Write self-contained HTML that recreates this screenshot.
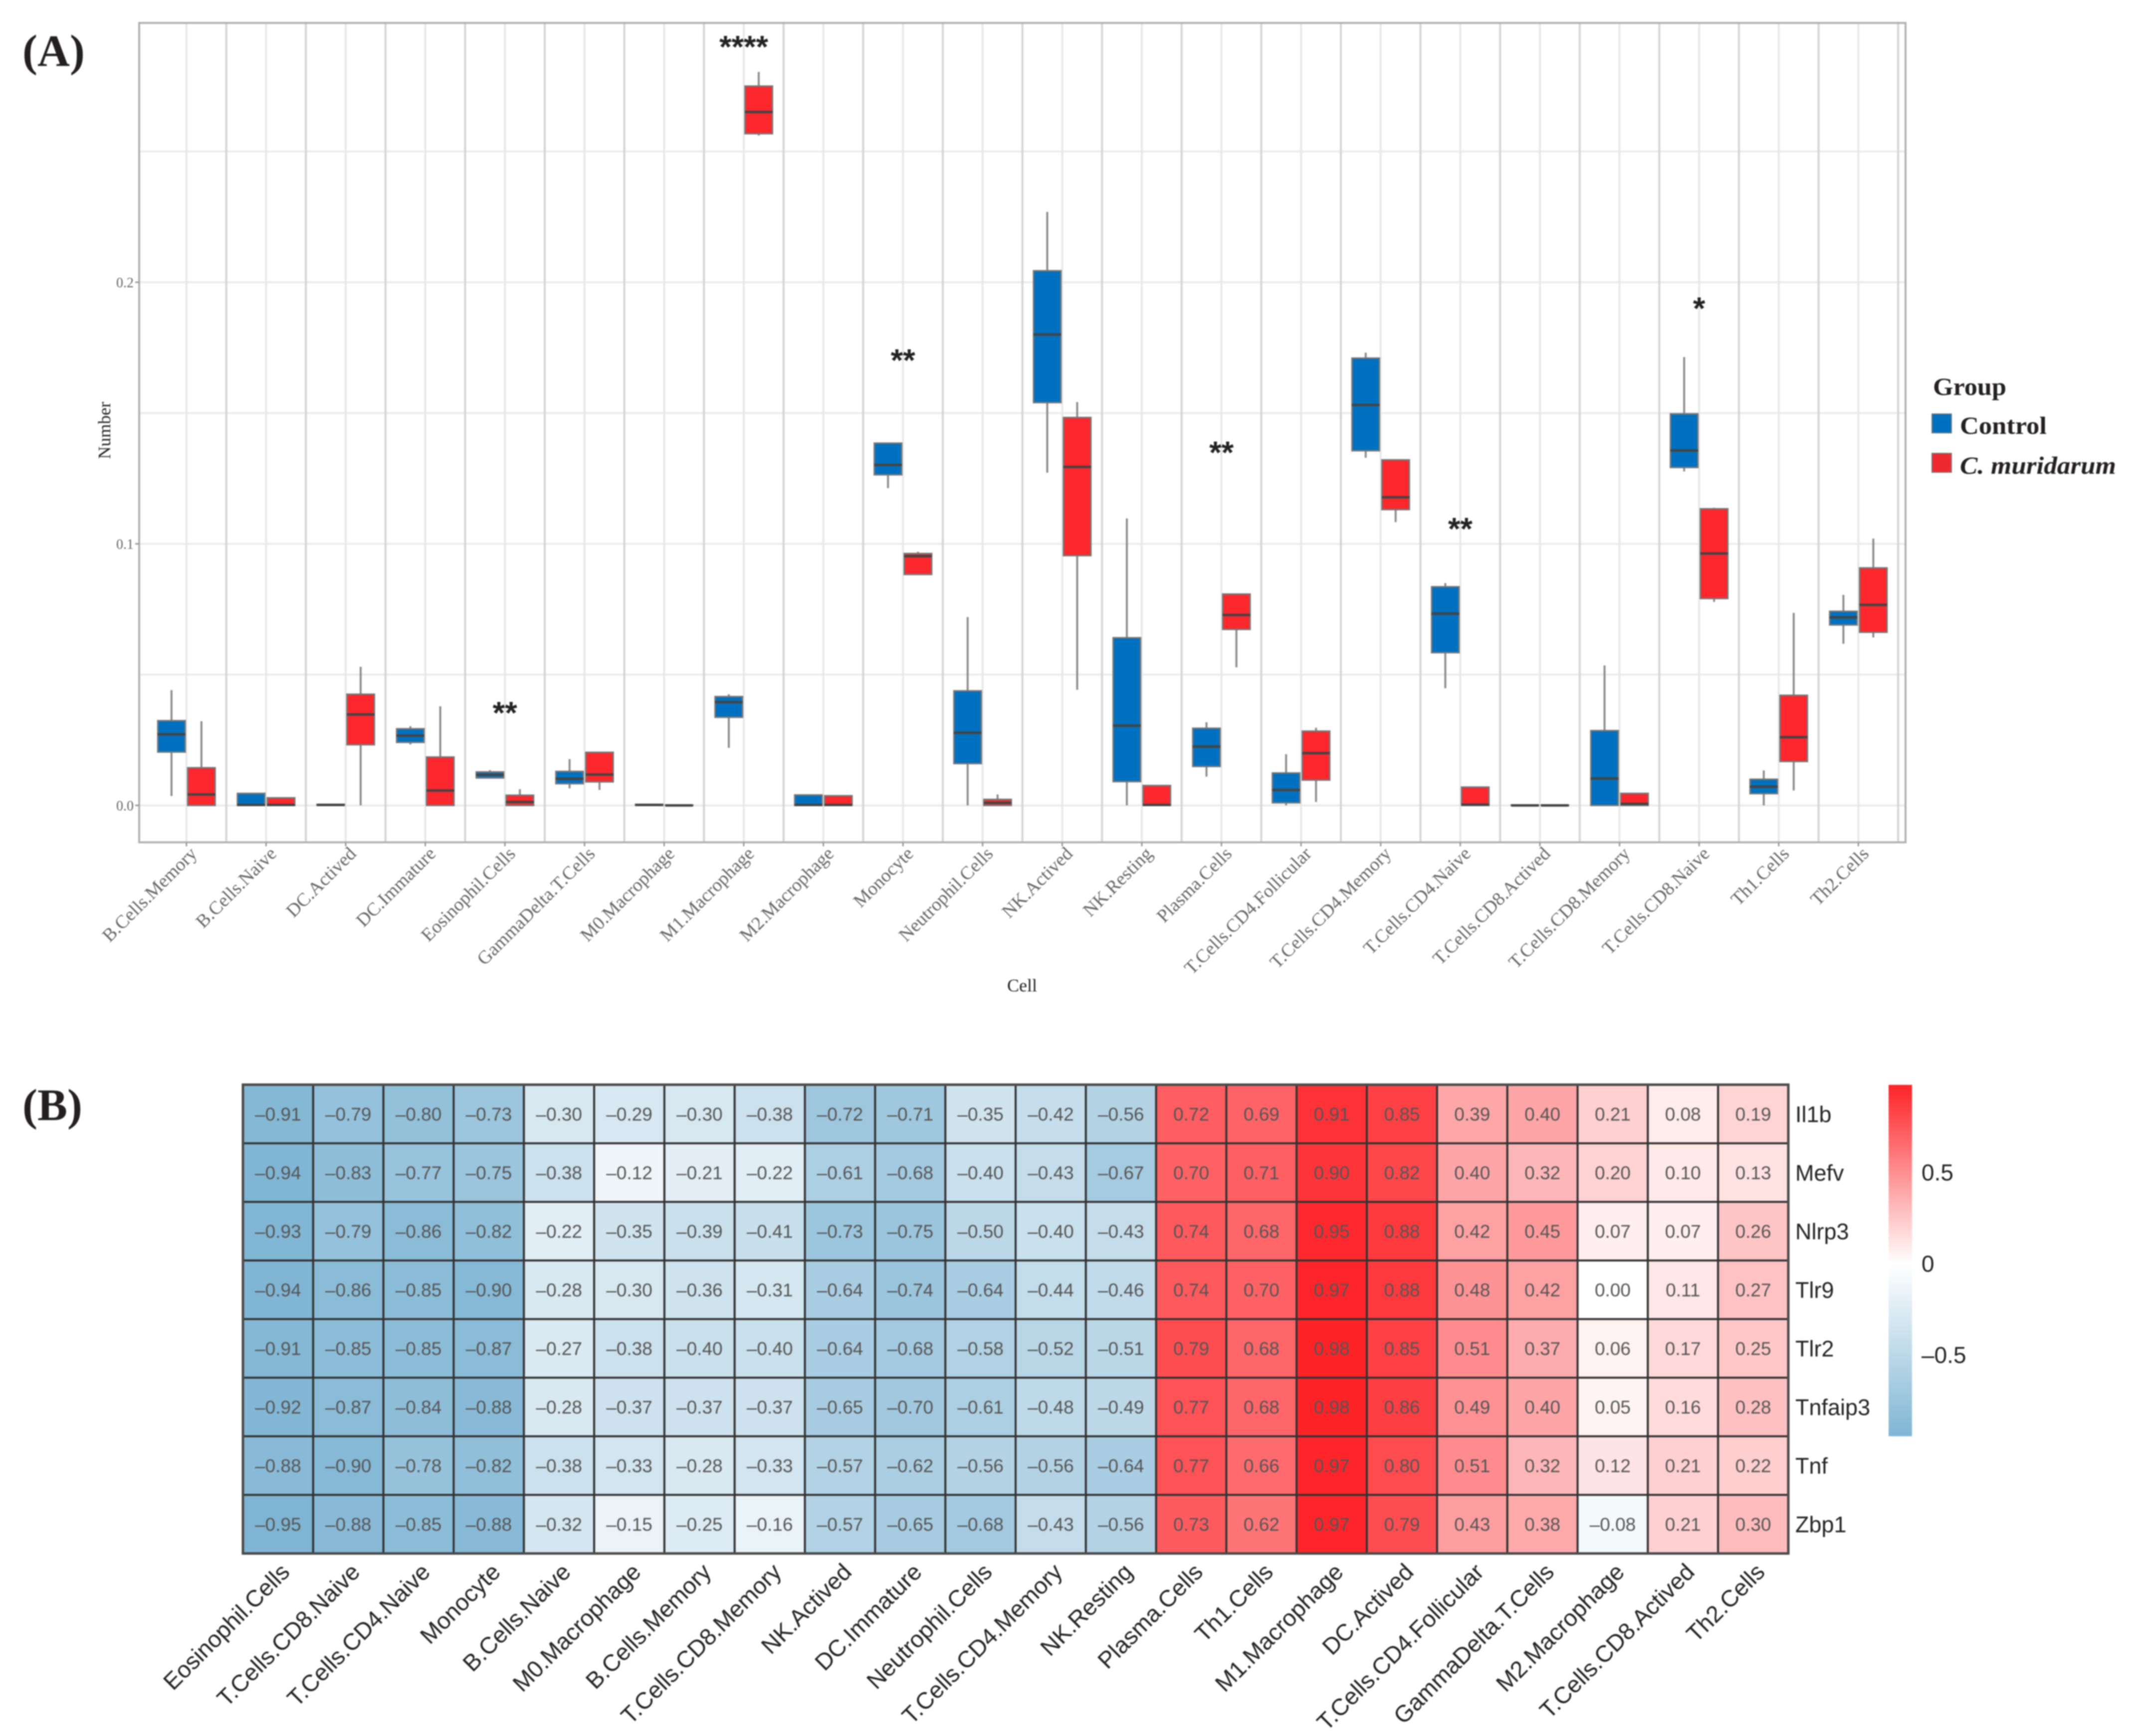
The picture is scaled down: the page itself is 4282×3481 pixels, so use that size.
<!DOCTYPE html>
<html lang="en">
<head>
<meta charset="utf-8">
<title>Immune cell boxplot and correlation heatmap</title>
<style>
html,body{margin:0;padding:0;background:#fff;}
#figure{display:block;width:4282px;height:3481px;filter:blur(1.2px);}
.serif{font-family:"Liberation Serif",serif;}
.sans{font-family:"Liberation Sans",sans-serif;}
</style>
</head>
<body>
<svg id="figure" xmlns="http://www.w3.org/2000/svg" width="4282" height="3481" viewBox="0 0 4282 3481">
  <defs>
    <linearGradient id="cbGrad" x1="0" y1="0" x2="0" y2="1"></linearGradient>
  </defs>
  <rect x="0" y="0" width="4282" height="3481" fill="#fff"/>
  <text class="serif" x="45" y="132" font-size="90" font-weight="bold" fill="#231f20">(A)</text>
  <text class="serif" x="45" y="2246" font-size="90" font-weight="bold" fill="#231f20">(B)</text>
  <g id="panelA"></g>
  <g id="panelB"></g>
  <text class="serif" x="209" y="0" transform="rotate(-90 209 863) translate(0 875)" font-size="35" fill="#222" text-anchor="middle">Number</text>
  <text class="serif" x="2049" y="1988" font-size="36" fill="#222" text-anchor="middle">Cell</text>
  <g>
    <text class="serif" x="3875" y="792" font-size="50" font-weight="bold" fill="#231f20" textLength="147" lengthAdjust="spacingAndGlyphs">Group</text>
    <rect x="3873" y="830" width="39" height="38" fill="#0070c0" stroke="#777" stroke-width="2"/>
    <text class="serif" x="3929" y="870" font-size="50" font-weight="bold" fill="#231f20" textLength="174" lengthAdjust="spacingAndGlyphs">Control</text>
    <rect x="3873" y="909" width="39" height="38" fill="#ee2a30" stroke="#777" stroke-width="2"/>
    <text class="serif" x="3929" y="950" font-size="50" font-weight="bold" font-style="italic" fill="#231f20" textLength="313" lengthAdjust="spacingAndGlyphs">C. muridarum</text>
  </g>
</svg>
<script>
/* ---------- Panel A data ---------- */
const categories = ["B.Cells.Memory","B.Cells.Naive","DC.Actived","DC.Immature","Eosinophil.Cells","GammaDelta.T.Cells","M0.Macrophage","M1.Macrophage","M2.Macrophage","Monocyte","Neutrophil.Cells","NK.Actived","NK.Resting","Plasma.Cells","T.Cells.CD4.Follicular","T.Cells.CD4.Memory","T.Cells.CD4.Naive","T.Cells.CD8.Actived","T.Cells.CD8.Memory","T.Cells.CD8.Naive","Th1.Cells","Th2.Cells"];
const controlHigh   = [.0441,.0046,.0004,.0303,.0135,.0177,.0004,.0425,.0040,.1385,.0720,.2269,.1097,.0318,.0196,.1731,.0850,.0001,.0535,.1714,.0134,.0805];
const controlQ3     = [.0324,.0046,.0004,.0293,.0128,.0130,.0004,.0416,.0040,.1385,.0438,.2044,.0641,.0295,.0124,.1710,.0836,.0001,.0286,.1497,.0100,.0742];
const controlMedian = [.0272,.0002,.0002,.0267,.0117,.0102,.0002,.0395,.0002,.1302,.0278,.1800,.0305,.0225,.0059,.1531,.0733,.0000,.0103,.1357,.0072,.0719];
const controlQ1     = [.0204,.0000,.0000,.0241,.0105,.0083,.0000,.0337,.0000,.1264,.0160,.1540,.0091,.0149,.0010,.1356,.0584,.0000,.0000,.1292,.0045,.0690];
const controlLow    = [.0036,.0000,.0000,.0233,.0105,.0065,.0000,.0220,.0000,.1213,.0000,.1272,.0000,.0110,.0000,.1329,.0448,.0000,.0000,.1277,.0000,.0618];
const infectedHigh   = [.0322,.0029,.0530,.0379,.0062,.0203,.0001,.2804,.0037,.0970,.0042,.1542,.0076,.0808,.0297,.1321,.0070,.0001,.0046,.1138,.0736,.1020];
const infectedQ3     = [.0144,.0029,.0425,.0185,.0039,.0203,.0001,.2750,.0037,.0963,.0023,.1483,.0076,.0808,.0284,.1321,.0070,.0001,.0046,.1134,.0421,.0908];
const infectedMedian = [.0042,.0002,.0348,.0057,.0013,.0118,.0000,.2651,.0002,.0953,.0010,.1294,.0002,.0728,.0200,.1178,.0003,.0000,.0006,.0963,.0261,.0767];
const infectedQ1     = [.0000,.0000,.0232,.0000,.0000,.0090,.0000,.2568,.0000,.0883,.0000,.0955,.0000,.0673,.0097,.1131,.0000,.0000,.0000,.0791,.0168,.0662];
const infectedLow    = [.0000,.0000,.0000,.0000,.0000,.0059,.0000,.2561,.0000,.0883,.0000,.0442,.0000,.0528,.0013,.1083,.0000,.0000,.0000,.0778,.0057,.0642];
const sigLabels = ["****","**","**","**","**","*"];
const sigCategories = ["M1.Macrophage","Monocyte","Eosinophil.Cells","Plasma.Cells","T.Cells.CD4.Naive","T.Cells.CD8.Naive"];
const sigHeights = [.2912,.1714,.0366,.1361,.1070,.1912];
const yTicks = ["0.0","0.1","0.2"];
const yGrid = [0,.05,.1,.15,.2,.25];

/* ---------- Panel B data ---------- */
const hmColumns = ["Eosinophil.Cells","T.Cells.CD8.Naive","T.Cells.CD4.Naive","Monocyte","B.Cells.Naive","M0.Macrophage","B.Cells.Memory","T.Cells.CD8.Memory","NK.Actived","DC.Immature","Neutrophil.Cells","T.Cells.CD4.Memory","NK.Resting","Plasma.Cells","Th1.Cells","M1.Macrophage","DC.Actived","T.Cells.CD4.Follicular","GammaDelta.T.Cells","M2.Macrophage","T.Cells.CD8.Actived","Th2.Cells"];
const hmRows = ["Il1b","Mefv","Nlrp3","Tlr9","Tlr2","Tnfaip3","Tnf","Zbp1"];
const il1b    = [-.91,-.79,-.80,-.73,-.30,-.29,-.30,-.38,-.72,-.71,-.35,-.42,-.56,.72,.69,.91,.85,.39,.40,.21,.08,.19];
const mefv    = [-.94,-.83,-.77,-.75,-.38,-.12,-.21,-.22,-.61,-.68,-.40,-.43,-.67,.70,.71,.90,.82,.40,.32,.20,.10,.13];
const nlrp3   = [-.93,-.79,-.86,-.82,-.22,-.35,-.39,-.41,-.73,-.75,-.50,-.40,-.43,.74,.68,.95,.88,.42,.45,.07,.07,.26];
const tlr9    = [-.94,-.86,-.85,-.90,-.28,-.30,-.36,-.31,-.64,-.74,-.64,-.44,-.46,.74,.70,.97,.88,.48,.42,.00,.11,.27];
const tlr2    = [-.91,-.85,-.85,-.87,-.27,-.38,-.40,-.40,-.64,-.68,-.58,-.52,-.51,.79,.68,.98,.85,.51,.37,.06,.17,.25];
const tnfaip3 = [-.92,-.87,-.84,-.88,-.28,-.37,-.37,-.37,-.65,-.70,-.61,-.48,-.49,.77,.68,.98,.86,.49,.40,.05,.16,.28];
const tnf     = [-.88,-.90,-.78,-.82,-.38,-.33,-.28,-.33,-.57,-.62,-.56,-.56,-.64,.77,.66,.97,.80,.51,.32,.12,.21,.22];
const zbp1    = [-.95,-.88,-.85,-.88,-.32,-.15,-.25,-.16,-.57,-.65,-.68,-.43,-.56,.73,.62,.97,.79,.43,.38,-.08,.21,.30];
const hmValues = [il1b,mefv,nlrp3,tlr9,tlr2,tnfaip3,tnf,zbp1];
const cbTicks = [0.5,0,-0.5];

/* ---------- helpers ---------- */
const NS = "http://www.w3.org/2000/svg";
function mk(tag, attrs, parent){
  const el = document.createElementNS(NS, tag);
  for (const k in attrs) el.setAttribute(k, attrs[k]);
  parent.appendChild(el);
  return el;
}
const panelA = document.getElementById("panelA");
const panelB = document.getElementById("panelB");

/* axis functions for panel A */
const plotL = 279, plotR = 3820, plotT = 46, plotB = 1689;
const xCat = i => 373.8 + i * 159.6;
const yVal = v => 1615 - v * 5245;

/* panel background grid */
yGrid.forEach(v => {
  const g = mk("line",{x1:plotL,x2:plotR,y1:yVal(v),y2:yVal(v),stroke:"#ececec","stroke-width":4},panelA);
  
  
});
categories.forEach((c,i) => {
  const g = mk("line",{x1:xCat(i),x2:xCat(i),y1:plotT,y2:plotB,stroke:"#e8e8e8","stroke-width":4},panelA);
  
  
  const m = mk("line",{x1:xCat(i+0.5),x2:xCat(i+0.5),y1:plotT,y2:plotB,stroke:"#d6d3d3","stroke-width":4},panelA);
  
  
});
const border = mk("rect",{x:plotL,y:plotT,width:plotR-plotL,height:plotB-plotT,fill:"none",stroke:"#b5b0b0","stroke-width":4},panelA);



/* y ticks */
yTicks.forEach(t => {
  const y = yVal(parseFloat(t));
  const tick = mk("line",{x1:plotL-8,x2:plotL,y1:y,y2:y,stroke:"#999","stroke-width":3},panelA);
  
  
  const lab = mk("text",{class:"serif",x:plotL-11,y:y+10,"font-size":28,fill:"#666","text-anchor":"end"},panelA);
  lab.textContent = t;
  
  
});

/* boxes */
const boxW = 55, off = 30;
function drawBox(i, sign, hi, q3, med, q1, lo, fill, nameText){
  const cx = xCat(i) + sign * off;
  const g = mk("g",{},panelA);
  
  
  const wh = mk("line",{x1:cx,x2:cx,y1:yVal(hi),y2:yVal(lo),stroke:"#8f8a8a","stroke-width":4},g);
  
  
  const b = mk("rect",{x:cx-boxW/2,y:yVal(q3),width:boxW,height:Math.max(0,yVal(q1)-yVal(q3)),fill:fill,stroke:"#777","stroke-width":3},g);
  
  
  const ml = mk("line",{x1:cx-boxW/2,x2:cx+boxW/2,y1:yVal(med),y2:yVal(med),stroke:"#444","stroke-width":5},g);
  
  
}
categories.forEach((c,i) => {
  drawBox(i,-1,controlHigh[i],controlQ3[i],controlMedian[i],controlQ1[i],controlLow[i],"#0070c0","box-control");
  drawBox(i,1,infectedHigh[i],infectedQ3[i],infectedMedian[i],infectedQ1[i],infectedLow[i],"#fb272c","box-c-muridarum");
});

/* x ticks and labels */
categories.forEach((c,i) => {
  const x = xCat(i);
  const tick = mk("line",{x1:x,x2:x,y1:plotB,y2:plotB+8,stroke:"#999","stroke-width":3},panelA);
  
  
  const lx = x + 23, ly = 1714;
  const lab = mk("text",{class:"serif",x:lx,y:ly,"font-size":37.5,fill:"#666","text-anchor":"end",transform:`rotate(-45 ${lx} ${ly})`},panelA);
  lab.textContent = c;
  
  
});

/* significance stars */
sigLabels.forEach((s,k) => {
  const i = categories.indexOf(sigCategories[k]);
  const st = mk("text",{class:"sans",x:xCat(i),y:yVal(sigHeights[k])+28,"font-size":63,"font-weight":"bold",fill:"#222","text-anchor":"middle"},panelA);
  st.textContent = s;
  
  
});

/* ---------- heatmap ---------- */
const hmL = 487, hmT = 2175, cellW = (3585-487)/22, cellH = (3115-2175)/8;
const xHm = j => hmL + j * cellW;
const yHm = r => hmT + r * cellH;
function colorFor(v){
  const t = Math.min(1, Math.abs(v));
  const to = v >= 0 ? [253,30,35] : [120,177,209];
  const c = [0,1,2].map(k => Math.round(255 + (to[k]-255)*t));
  return `rgb(${c[0]},${c[1]},${c[2]})`;
}
hmValues.forEach((row,r) => {
  row.forEach((v,j) => {
    const cell = mk("rect",{x:xHm(j),y:yHm(r),width:cellW,height:cellH,fill:colorFor(v),stroke:"#333","stroke-width":4},panelB);
    
    
    const t = mk("text",{class:"sans",x:xHm(j)+cellW/2,y:yHm(r)+cellH/2+13,"font-size":37,fill:"#555","text-anchor":"middle"},panelB);
    t.textContent = (v < 0 ? "\u2013" : "") + Math.abs(v).toFixed(2);
    
    
  });
});
const hmBorder = mk("rect",{x:hmL,y:hmT,width:cellW*22,height:cellH*8,fill:"none",stroke:"#4a4a4a","stroke-width":5},panelB);



hmRows.forEach((n,r) => {
  const t = mk("text",{class:"sans",x:3599,y:yHm(r)+cellH/2+16,"font-size":45,fill:"#222"},panelB);
  t.textContent = n;
  
  
});
hmColumns.forEach((n,j) => {
  const lx = xHm(j) + cellW/2 + 26, ly = 3155;
  const t = mk("text",{class:"sans",x:lx,y:ly,"font-size":47,fill:"#222","text-anchor":"end",transform:`rotate(-45 ${lx} ${ly})`},panelB);
  t.textContent = n;
  
  
});

/* colourbar */
const yBar = v => 2534 - v * 366;
const cbTop = yBar(0.98), cbBottom = yBar(-0.945);
const grad = document.getElementById("cbGrad");
[0.98,0.75,0.5,0.25,0,-0.25,-0.5,-0.75,-0.945].forEach(v => {
  mk("stop",{offset:(yBar(v)-cbTop)/(cbBottom-cbTop),"stop-color":colorFor(v)},grad);
});
const bar = mk("rect",{x:3786,y:cbTop,width:47,height:cbBottom-cbTop,fill:"url(#cbGrad)"},panelB);


cbTicks.forEach(v => {
  const t = mk("text",{class:"sans",x:3852,y:yBar(v)+16,"font-size":46,fill:"#222"},panelB);
  t.textContent = (v < 0 ? "\u2013" : "") + Math.abs(v);
  
  
});
</script>
</body>
</html>
